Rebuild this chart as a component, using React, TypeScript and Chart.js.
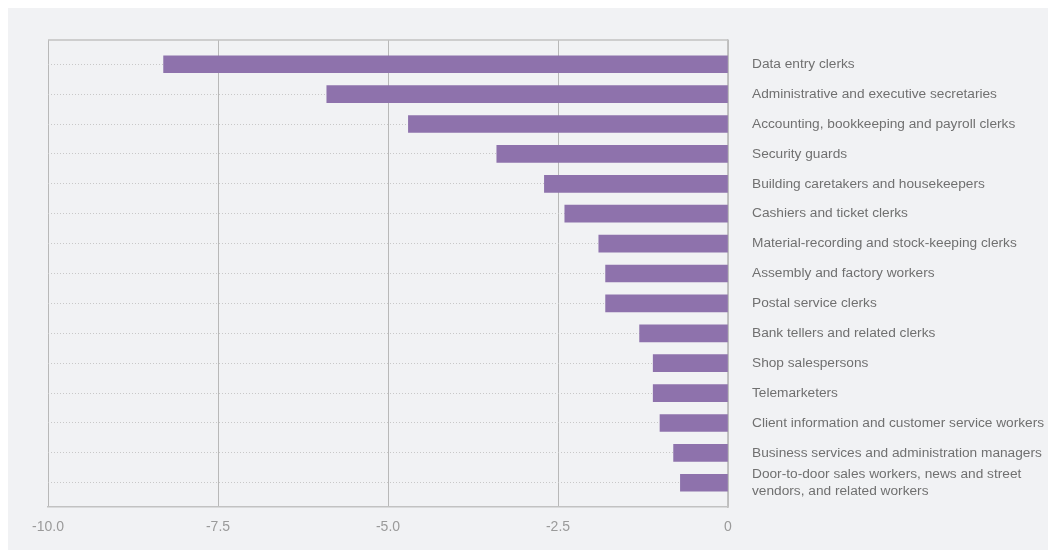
import React, { useEffect, useRef } from "react";
import { Chart, registerables } from "chart.js";

Chart.register(...registerables);

const categories: (string | string[])[] = [
  "Data entry clerks",
  "Administrative and executive secretaries",
  "Accounting, bookkeeping and payroll clerks",
  "Security guards",
  "Building caretakers and housekeepers",
  "Cashiers and ticket clerks",
  "Material-recording and stock-keeping clerks",
  "Assembly and factory workers",
  "Postal service clerks",
  "Bank tellers and related clerks",
  "Shop salespersons",
  "Telemarketers",
  "Client information and customer service workers",
  "Business services and administration managers",
  ["Door-to-door sales workers, news and street", "vendors, and related workers"],
];

const values: number[] = [-8.3, -5.9, -4.7, -3.4, -2.7, -2.4, -1.9, -1.8, -1.8, -1.3, -1.1, -1.1, -1.0, -0.8, -0.7];

const xTicks: number[] = [-10, -7.5, -5, -2.5, 0];

const FONT = "'Liberation Sans', Arial, Helvetica, sans-serif";

export default function App() {
  const ref = useRef<HTMLCanvasElement | null>(null);

  useEffect(() => {
    if (!ref.current) return;
    const frame = {
      id: "frame",
      beforeDatasetsDraw(chart: any) {
        const { ctx, chartArea } = chart;
        ctx.save();
        ctx.strokeStyle = "#c2c2c2";
        ctx.lineWidth = 1.5;
        ctx.beginPath();
        ctx.moveTo(chartArea.left, chartArea.top);
        ctx.lineTo(chartArea.right, chartArea.top);
        ctx.stroke();
        ctx.restore();
      },
    };
    const chart = new Chart(ref.current, {
      type: "bar",
      data: {
        datasets: [
          {
            data: values.map((v, i) => ({ x: v, y: i })) as any,
            backgroundColor: "#8e72ac",
            borderWidth: 0,
            barThickness: 17,
          },
        ],
      },
      options: {
        indexAxis: "y",
        animation: false,
        responsive: false,
        maintainAspectRatio: false,
        layout: { padding: { left: 40, top: 32, right: 0, bottom: 0 } },
        plugins: { legend: { display: false }, tooltip: { enabled: false } },
        scales: {
          x: {
            type: "linear",
            min: -10,
            max: 0,
            afterBuildTicks: (s: any) => {
              s.ticks = xTicks.map((v) => ({ value: v }));
            },
            afterFit: (s: any) => {
              s.height = 43;
            },
            grid: { color: "#b8b8b8", lineWidth: 1, drawTicks: false },
            border: { color: "#c2c2c2", width: 1.5 },
            ticks: {
              color: "#9a9a9a",
              padding: 12,
              font: { family: FONT, size: 14 },
              callback: (v: any) => (Number(v) === 0 ? "0" : Number(v).toFixed(1)),
            },
          },
          y: {
            type: "linear",
            position: "right",
            reverse: true,
            offset: false,
            min: -0.81,
            max: 14.81,
            afterBuildTicks: (s: any) => {
              s.ticks = categories.map((_, i) => ({ value: i }));
            },
            afterFit: (s: any) => {
              s.width = 320;
              s.paddingTop = 0;
              s.paddingBottom = 0;
            },
            grid: { color: "#c8c8c8", lineWidth: 1, drawTicks: false, offset: false },
            border: { color: "#c2c2c2", width: 1.5, dash: [1, 2] },
            ticks: {
              color: "#707070",
              padding: 24,
              autoSkip: false,
              font: { family: FONT, size: 13.7, lineHeight: 1.3 },
              callback: (v: any) => categories[Number(v)] as any,
            },
          },
        },
      },
      plugins: [frame],
    } as any);
    return () => chart.destroy();
  }, []);

  return (
    <div style={{ width: 1040, height: 542, background: "#f1f2f4" }}>
      <canvas ref={ref} width={1040} height={542} style={{ display: "block" }} />
    </div>
  );
}
